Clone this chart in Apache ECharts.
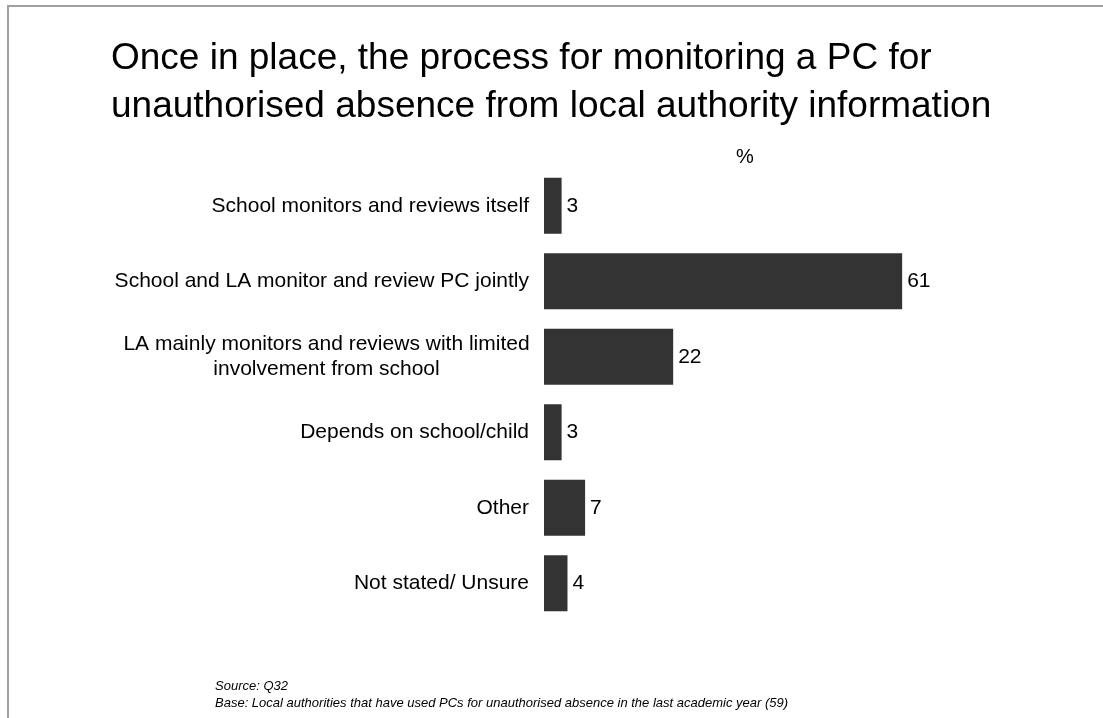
<!DOCTYPE html>
<html>
<head>
<meta charset="utf-8">
<script src="https://cdn.jsdelivr.net/npm/echarts@6/dist/echarts.min.js"></script>
<style>
  html, body { margin: 0; padding: 0; background: #fff; }
  #chart { width: 1103px; height: 718px; }
</style>
</head>
<body>
<div id="chart"></div>
<script>
// categories top to bottom
const categories = [
    'School monitors and reviews itself',
    'School and LA monitor and review PC jointly',
    'LA mainly monitors and reviews with limited\ninvolvement from school',
    'Depends on school/child',
    'Other',
    'Not stated/ Unsure'
];
const values = [3, 61, 22, 3, 7, 4];

const titleText = 'Once in place, the process for monitoring a PC for\nunauthorised absence from local authority information';
const unitText = '%';
const sourceText = 'Source: Q32';
const baseText = 'Base: Local authorities that have used PCs for unauthorised absence in the last academic year (59)';

const FONT = 'Liberation Sans, Arial, sans-serif';

const chart = echarts.init(document.getElementById('chart'));

const option = {
    backgroundColor: '#fff',
    animation: false,
    title: [
        {
            text: titleText,
            left: 106,
            top: 30,
            textStyle: {
                fontFamily: FONT,
                fontSize: 37,
                fontWeight: 'normal',
                color: '#000',
                lineHeight: 48
            }
        },
        {
            text: unitText,
            left: 731,
            top: 142,
            textStyle: {
                fontFamily: FONT,
                fontSize: 20,
                fontWeight: 'normal',
                color: '#000'
            }
        },
        {
            text: sourceText + '\n' + baseText,
            left: 210,
            top: 673,
            textStyle: {
                fontFamily: FONT,
                fontSize: 13,
                fontStyle: 'italic',
                fontWeight: 'normal',
                color: '#000',
                lineHeight: 17
            }
        }
    ],
    graphic: [
        {
            type: 'rect',
            shape: { x: 8, y: 6, width: 1110, height: 730 },
            style: { fill: 'none', stroke: '#a0a0a0', lineWidth: 2 },
            silent: true
        }
    ],
    grid: {
        left: 544,
        top: 168,
        height: 453,
        width: 411
    },
    xAxis: {
        type: 'value',
        min: 0,
        max: 70,
        show: false
    },
    yAxis: {
        type: 'category',
        inverse: true,
        data: categories,
        axisLine: { show: false },
        axisTick: { show: false },
        axisLabel: {
            margin: 15,
            fontFamily: FONT,
            fontSize: 21,
            color: '#000',
            lineHeight: 25,
            formatter: function (v) {
                if (v.indexOf('\n') < 0) return v;
                return v.split('\n').map(s => '{c|' + s + '}').join('\n');
            },
            rich: {
                c: {
                    width: 405,
                    align: 'center',
                    fontFamily: FONT,
                    fontSize: 21,
                    color: '#000',
                    lineHeight: 25
                }
            }
        }
    },
    series: [
        {
            type: 'bar',
            data: values,
            barWidth: '74%',
            itemStyle: { color: '#333333' },
            label: {
                show: true,
                position: 'right',
                distance: 5,
                fontFamily: FONT,
                fontSize: 21,
                color: '#000'
            }
        }
    ]
};

chart.setOption(option);
</script>
</body>
</html>
